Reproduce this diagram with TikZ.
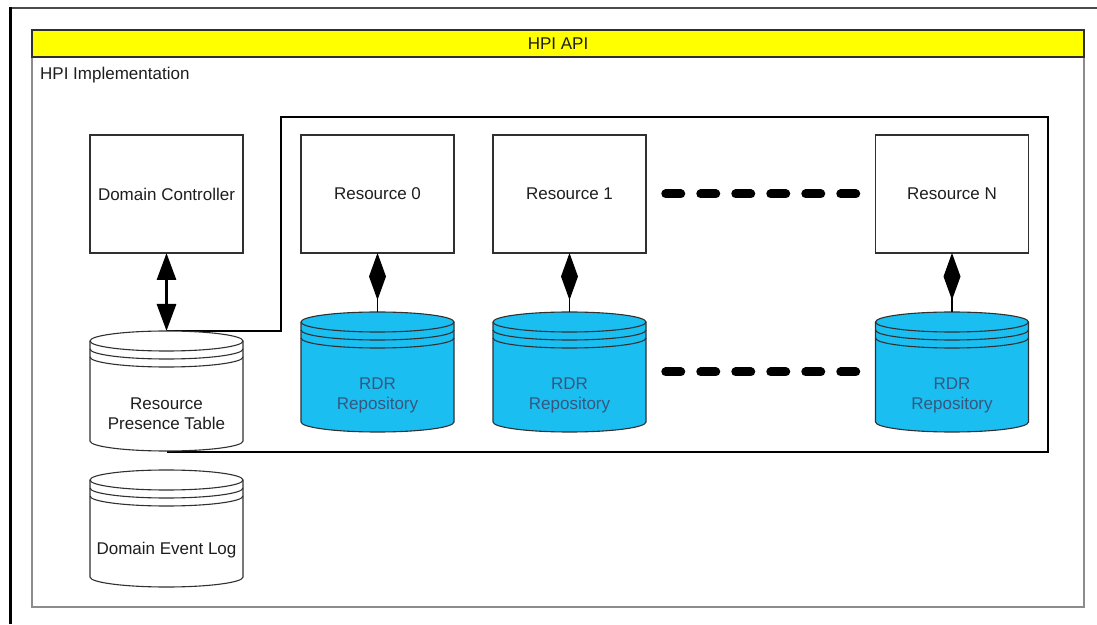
\documentclass[tikz,border=0pt]{standalone}
\usepackage{fontspec}
\setmainfont{Liberation Sans}
\usepackage{tikz}
\usetikzlibrary{arrows.meta,positioning}
\definecolor{ink}{HTML}{1E1E1E}
\definecolor{edge}{HTML}{303030}
\definecolor{pale}{HTML}{8C8C8C}
\definecolor{topline}{HTML}{4A4A4A}
\definecolor{apiyellow}{HTML}{FFFF00}
\definecolor{rdrblue}{HTML}{1ABEF0}
\definecolor{rdrtext}{HTML}{35587F}
\tikzset{
  compbox/.style={draw=edge, line width=1.3pt, fill=white, minimum width=153pt, minimum height=118pt, inner sep=0pt, outer sep=0pt, text=ink},
  dbcyl/.style={minimum width=153pt, minimum height=120pt, inner sep=0pt, outer sep=0pt},
  dbtext/.style={align=center, text=ink},
  cylline/.style={draw=edge, line width=1.1pt},
  dblarr/.style={{Triangle[length=27pt,width=19pt]}-{Triangle[length=27pt,width=19pt]}, line width=3pt, draw=black},
  compose/.style={{Diamond[length=47pt,width=17pt]}-, line width=1.5pt, draw=black},
  gapline/.style={line width=9pt, line cap=round, dash pattern=on 15pt off 20pt, draw=black}
}

\begin{document}
\begin{tikzpicture}[x=1pt, y=1pt, font=\fontsize{17}{20}\selectfont]
  \useasboundingbox (0,0) rectangle (1097,624);
  \fill[white] (0,0) rectangle (1097,624);

  \draw[topline, line width=1.5pt] (10,616) -- (1097,616);
  \draw[black, line width=3pt] (10.5,0) -- (10.5,616.75);

  \draw[pale, line width=1.2pt] (32,17) rectangle (1084,594);
  \node[draw=edge, line width=1.2pt, fill=apiyellow, minimum width=1052pt, minimum height=27pt, inner sep=0pt, text=ink] (api) at (558,580.5) {HPI API};
  \node[anchor=west, text=ink, inner sep=0pt] (impl) at (40,549) {HPI Implementation};

  \draw[black, line width=1.5pt] (166.5,293) -| (281,507) -| (1048,172) -- (166.5,172);

  \node[compbox] (dc) at (166.5,430) {Domain Controller};
  \node[compbox, right=58pt of dc] (res0) {Resource 0};
  \node[compbox, right=39pt of res0] (res1) {Resource 1};
  \node[compbox, right=229.5pt of res1] (resN) {Resource N};

  \node[dbcyl, below=78pt of dc] (rpt) {};
  \node[dbcyl, below=19pt of rpt, minimum height=117pt] (del) {};
  \node[dbcyl, below=59pt of res0] (rdr0) {};
  \node[dbcyl, below=59pt of res1] (rdr1) {};
  \node[dbcyl, below=59pt of resN] (rdrN) {};

  \foreach \c/\col in {rpt/white, del/white, rdr0/rdrblue, rdr1/rdrblue, rdrN/rdrblue} {
    \filldraw[cylline, fill=\col] ([yshift=-10pt]\c.north west) -- ([yshift=10pt]\c.south west)
      arc[start angle=180, end angle=360, x radius=76.5pt, y radius=10pt]
      -- ([yshift=-10pt]\c.north east)
      arc[start angle=0, end angle=180, x radius=76.5pt, y radius=10pt] -- cycle;
    \foreach \d in {10,18,26}
      \draw[cylline] ([yshift=-\d pt]\c.north west) arc[start angle=180, end angle=360, x radius=76.5pt, y radius=10pt];
  }

  \node[dbtext] (rpttxt) at ([yshift=-23pt]rpt.center) {Resource\\Presence Table};
  \node[dbtext] (deltxt) at ([yshift=-22pt]del.center) {Domain Event Log};
  \node[dbtext, text=rdrtext] (rdr0txt) at ([yshift=-23pt]rdr0.center) {RDR\\Repository};
  \node[dbtext, text=rdrtext] (rdr1txt) at ([yshift=-23pt]rdr1.center) {RDR\\Repository};
  \node[dbtext, text=rdrtext] (rdrNtxt) at ([yshift=-23pt]rdrN.center) {RDR\\Repository};

  \draw[dblarr] (dc.south) -- (rpt.north);
  \draw[compose] (res0.south) -- (rdr0.north);
  \draw[compose] (res1.south) -- (rdr1.north);
  \draw[compose] (resN.south) -- (rdrN.north);

  \draw[gapline] ([xshift=19.75pt]res1.east) -- ([xshift=-19.75pt]resN.west);
  \draw[gapline] ([xshift=19.75pt]rdr1.east) -- ([xshift=-19.75pt]rdrN.west);
\end{tikzpicture}
\end{document}
